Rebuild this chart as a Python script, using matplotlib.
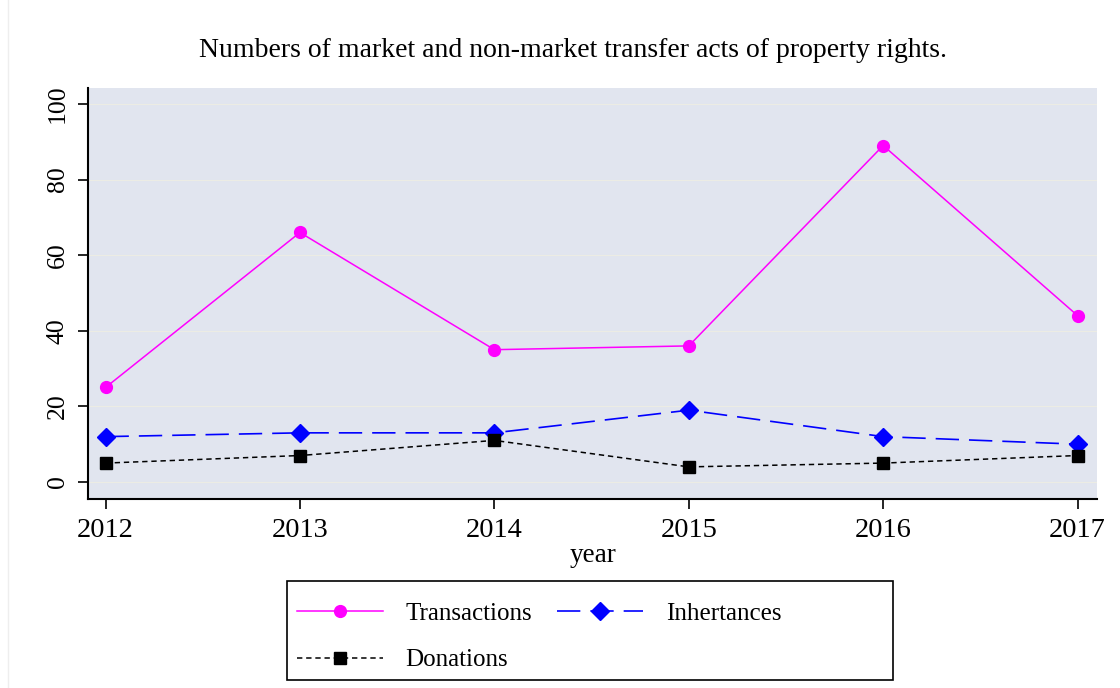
import matplotlib
matplotlib.use("Agg")
import matplotlib.pyplot as plt
from matplotlib.lines import Line2D
from matplotlib.patches import Rectangle

plt.rcParams['font.family'] = ['Liberation Serif', 'DejaVu Serif']

years = [2012, 2013, 2014, 2015, 2016, 2017]
transactions = [25, 66, 35, 36, 89, 44]
inheritances = [12, 13, 13, 19, 12, 10]
donations = [5, 7, 11, 4, 5, 7]
yticks = [0, 20, 40, 60, 80, 100]

fig = plt.figure(figsize=(11.2, 6.88), dpi=100)
ax = fig.add_axes([0.0786, 0.2747, 0.9009, 0.5973])
ax.set_facecolor("#e1e5ef")

for v in yticks:
    ax.axhline(v, color="#ecece4", lw=0.8, zorder=0)

l_t, = ax.plot(years, transactions, color="#ff00ff", lw=1.1, marker="o", markersize=8.5,
               label="Transactions")
l_i, = ax.plot(years, inheritances, color="#0000ff", lw=1.2, marker="D", markersize=9.5,
               dashes=(14, 6), label="Inhertances")
l_d, = ax.plot(years, donations, color="black", lw=1.1, marker="s", markersize=8.5,
               dashes=(3.5, 2.5), label="Donations")

ax.set_xlim(2011.91, 2017.1)
ax.set_ylim(-4.5, 104.2)
ax.set_xticks(years)
ax.set_yticks(yticks)
ax.tick_params(axis="both", direction="out", length=7, width=1.2, colors="black")
ax.tick_params(axis="x", labelsize=20.5, pad=7)
ax.tick_params(axis="y", labelsize=18.5, pad=7)
for lab in ax.get_yticklabels():
    lab.set_rotation(90)
    lab.set_va("center")
for s in ["top", "right"]:
    ax.spines[s].set_visible(False)
for s in ["left", "bottom"]:
    ax.spines[s].set_linewidth(1.5)

ax.set_xlabel("year", fontsize=19.5, labelpad=0)
fig.text(0.5116, 0.927, "Numbers of market and non-market transfer acts of property rights.",
         ha="center", va="center", fontsize=20)

# column-major fill: T, D in first column, I in second
leg = ax.legend([l_t, l_d, l_i], ["Transactions", "Donations", "Inhertances"],
                loc="upper left", bbox_to_anchor=(0.265, 0.124), bbox_transform=fig.transFigure,
                ncol=2, fontsize=18, frameon=False,
                handlelength=3.45, handletextpad=0.9, columnspacing=1.0, borderpad=0,
                labelspacing=0.95, borderaxespad=0)

# wide Stata-style legend box
fig.add_artist(Rectangle((287 / 1120, 1 - 680 / 688), 606 / 1120, 99 / 688,
                         transform=fig.transFigure, fill=False, edgecolor="black", lw=1.2))

fig.add_artist(Line2D([0.007, 0.007], [0, 1], transform=fig.transFigure, color="#eeeeee", lw=1))

fig.savefig("out.png", dpi=100)
